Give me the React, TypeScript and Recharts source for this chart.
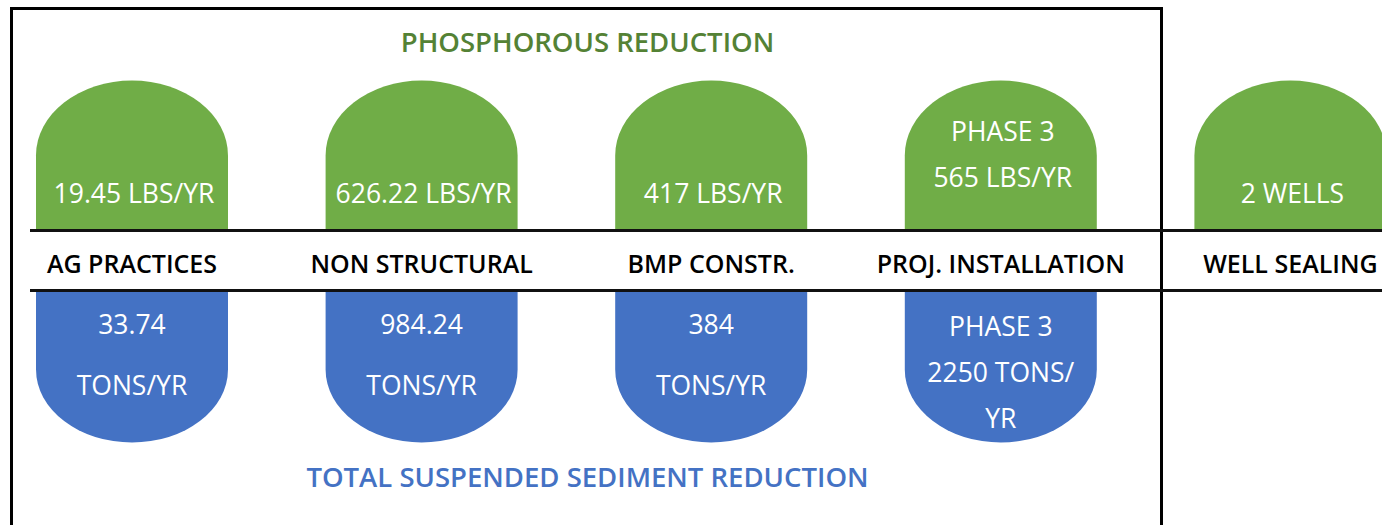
import React from 'react';
import { ComposedChart, Bar, XAxis, YAxis, ReferenceLine, LabelList } from 'recharts';

// categories along the middle band
const categories = ['AG PRACTICES', 'NON STRUCTURAL', 'BMP CONSTR.', 'PROJ. INSTALLATION', 'WELL SEALING'];

// phosphorous reduction (green domes), one list of text lines per category
const phosphorusText: string[][] = [
  ['19.45 LBS/YR'],
  ['626.22 LBS/YR'],
  ['417 LBS/YR'],
  ['PHASE 3', '565 LBS/YR'],
  ['2 WELLS'],
];

// total suspended sediment reduction (blue domes); well sealing has none
const sedimentText: string[][] = [
  ['33.74', 'TONS/YR'],
  ['984.24', 'TONS/YR'],
  ['384', 'TONS/YR'],
  ['PHASE 3', '2250 TONS/', 'YR'],
  [],
];

const GREEN = '#70AD47';
const BLUE = '#4472C4';
const FONT = '"Open Sans", "Noto Sans", sans-serif';

const GAP = 0.2;
const DOME = 1;

const data = categories.map((category, i) => ({
  category,
  pText: phosphorusText[i],
  sText: sedimentText[i],
  phosphorus: phosphorusText[i].length ? [GAP, GAP + DOME] : null,
  sediment: sedimentText[i].length ? [-GAP - DOME, -GAP] : null,
}));

const greenOffsets: Record<number, number[]> = { 1: [-37], 2: [-99, -53] };
const blueOffsets: Record<number, number[]> = { 2: [34, 95], 3: [36, 82, 128] };

const GreenDome = (props: any) => {
  const { x, y, width, height, payload } = props;
  if (!height) return null;
  const rx = width / 2;
  const ry = 75;
  const bottom = y + height;
  const d = `M${x},${bottom} L${x},${y + ry} A${rx},${ry} 0 0 1 ${x + width},${y + ry} L${x + width},${bottom} Z`;
  const lines: string[] = payload.pText;
  const offs = greenOffsets[lines.length] || [];
  return (
    <g>
      <path d={d} fill={GREEN} />
      {lines.map((t, i) => (
        <text key={i} x={x + rx + 2} y={bottom + offs[i] + 9.5} textAnchor="middle" fill="#fff"
          fontSize={26.5} fontFamily={FONT}>{t}</text>
      ))}
    </g>
  );
};

const BlueDome = (props: any) => {
  const { x, y, width, height, payload } = props;
  if (!height) return null;
  const rx = width / 2;
  const ry = 73;
  const bottom = y + height + 2;
  const d = `M${x},${y} L${x + width},${y} L${x + width},${bottom - ry} A${rx},${ry} 0 0 1 ${x},${bottom - ry} Z`;
  const lines: string[] = payload.sText;
  const offs = blueOffsets[lines.length] || [];
  return (
    <g>
      <path d={d} fill={BLUE} />
      {lines.map((t, i) => (
        <text key={i} x={x + rx} y={y + offs[i] + 9.5} textAnchor="middle" fill="#fff"
          fontSize={26.5} fontFamily={FONT}>{t}</text>
      ))}
    </g>
  );
};

const CategoryLabel = (props: any) => {
  const { x, y, width, height, value } = props;
  return (
    <text x={x + width / 2} y={y + height + 33 + 9} textAnchor="middle" fill="#000"
      fontSize={25} fontWeight={600} fontFamily={FONT}>{value}</text>
  );
};

const Rule = (props: any) => {
  const { x2, y1 } = props;
  return <line x1={43} y1={y1} x2={x2} y2={y1} stroke="#111" strokeWidth={3} />;
};

export default function App() {
  return (
    <div style={{ position: 'fixed', left: 0, top: 0, width: 1382, height: 525, overflow: 'hidden', background: '#fff' }}>
      <div style={{ position: 'absolute', left: 10, top: 7, width: 1153, height: 560, border: '3px solid #000', boxSizing: 'border-box' }} />
      <div style={{ position: 'absolute', left: -13, top: 0 }}>
        <ComposedChart width={1448} height={525} data={data} margin={{ top: 0, right: 0, bottom: 0, left: 0 }}>
          <XAxis xAxisId="p" dataKey="category" type="category" hide />
          <XAxis xAxisId="s" dataKey="category" type="category" hide />
          <YAxis type="number" domain={[-1.7633, 1.7367]} hide allowDataOverflow />
          <ReferenceLine xAxisId="p" y={GAP} shape={Rule} />
          <ReferenceLine xAxisId="p" y={-GAP} shape={Rule} />
          <Bar xAxisId="p" dataKey="phosphorus" barSize={192} shape={GreenDome} isAnimationActive={false}>
            <LabelList dataKey="category" content={CategoryLabel} />
          </Bar>
          <Bar xAxisId="s" dataKey="sediment" barSize={192} shape={BlueDome} isAnimationActive={false} />
        </ComposedChart>
      </div>
      <div style={{ position: 'absolute', left: 0, width: 1175, top: 27, lineHeight: '30px', textAlign: 'center',
        color: '#548235', fontFamily: FONT, fontSize: 27.5, fontWeight: 600 }}>PHOSPHOROUS REDUCTION</div>
      <div style={{ position: 'absolute', left: 0, width: 1175, top: 462, lineHeight: '30px', textAlign: 'center',
        color: BLUE, fontFamily: FONT, fontSize: 27.5, fontWeight: 600 }}>TOTAL SUSPENDED SEDIMENT REDUCTION</div>
    </div>
  );
}
